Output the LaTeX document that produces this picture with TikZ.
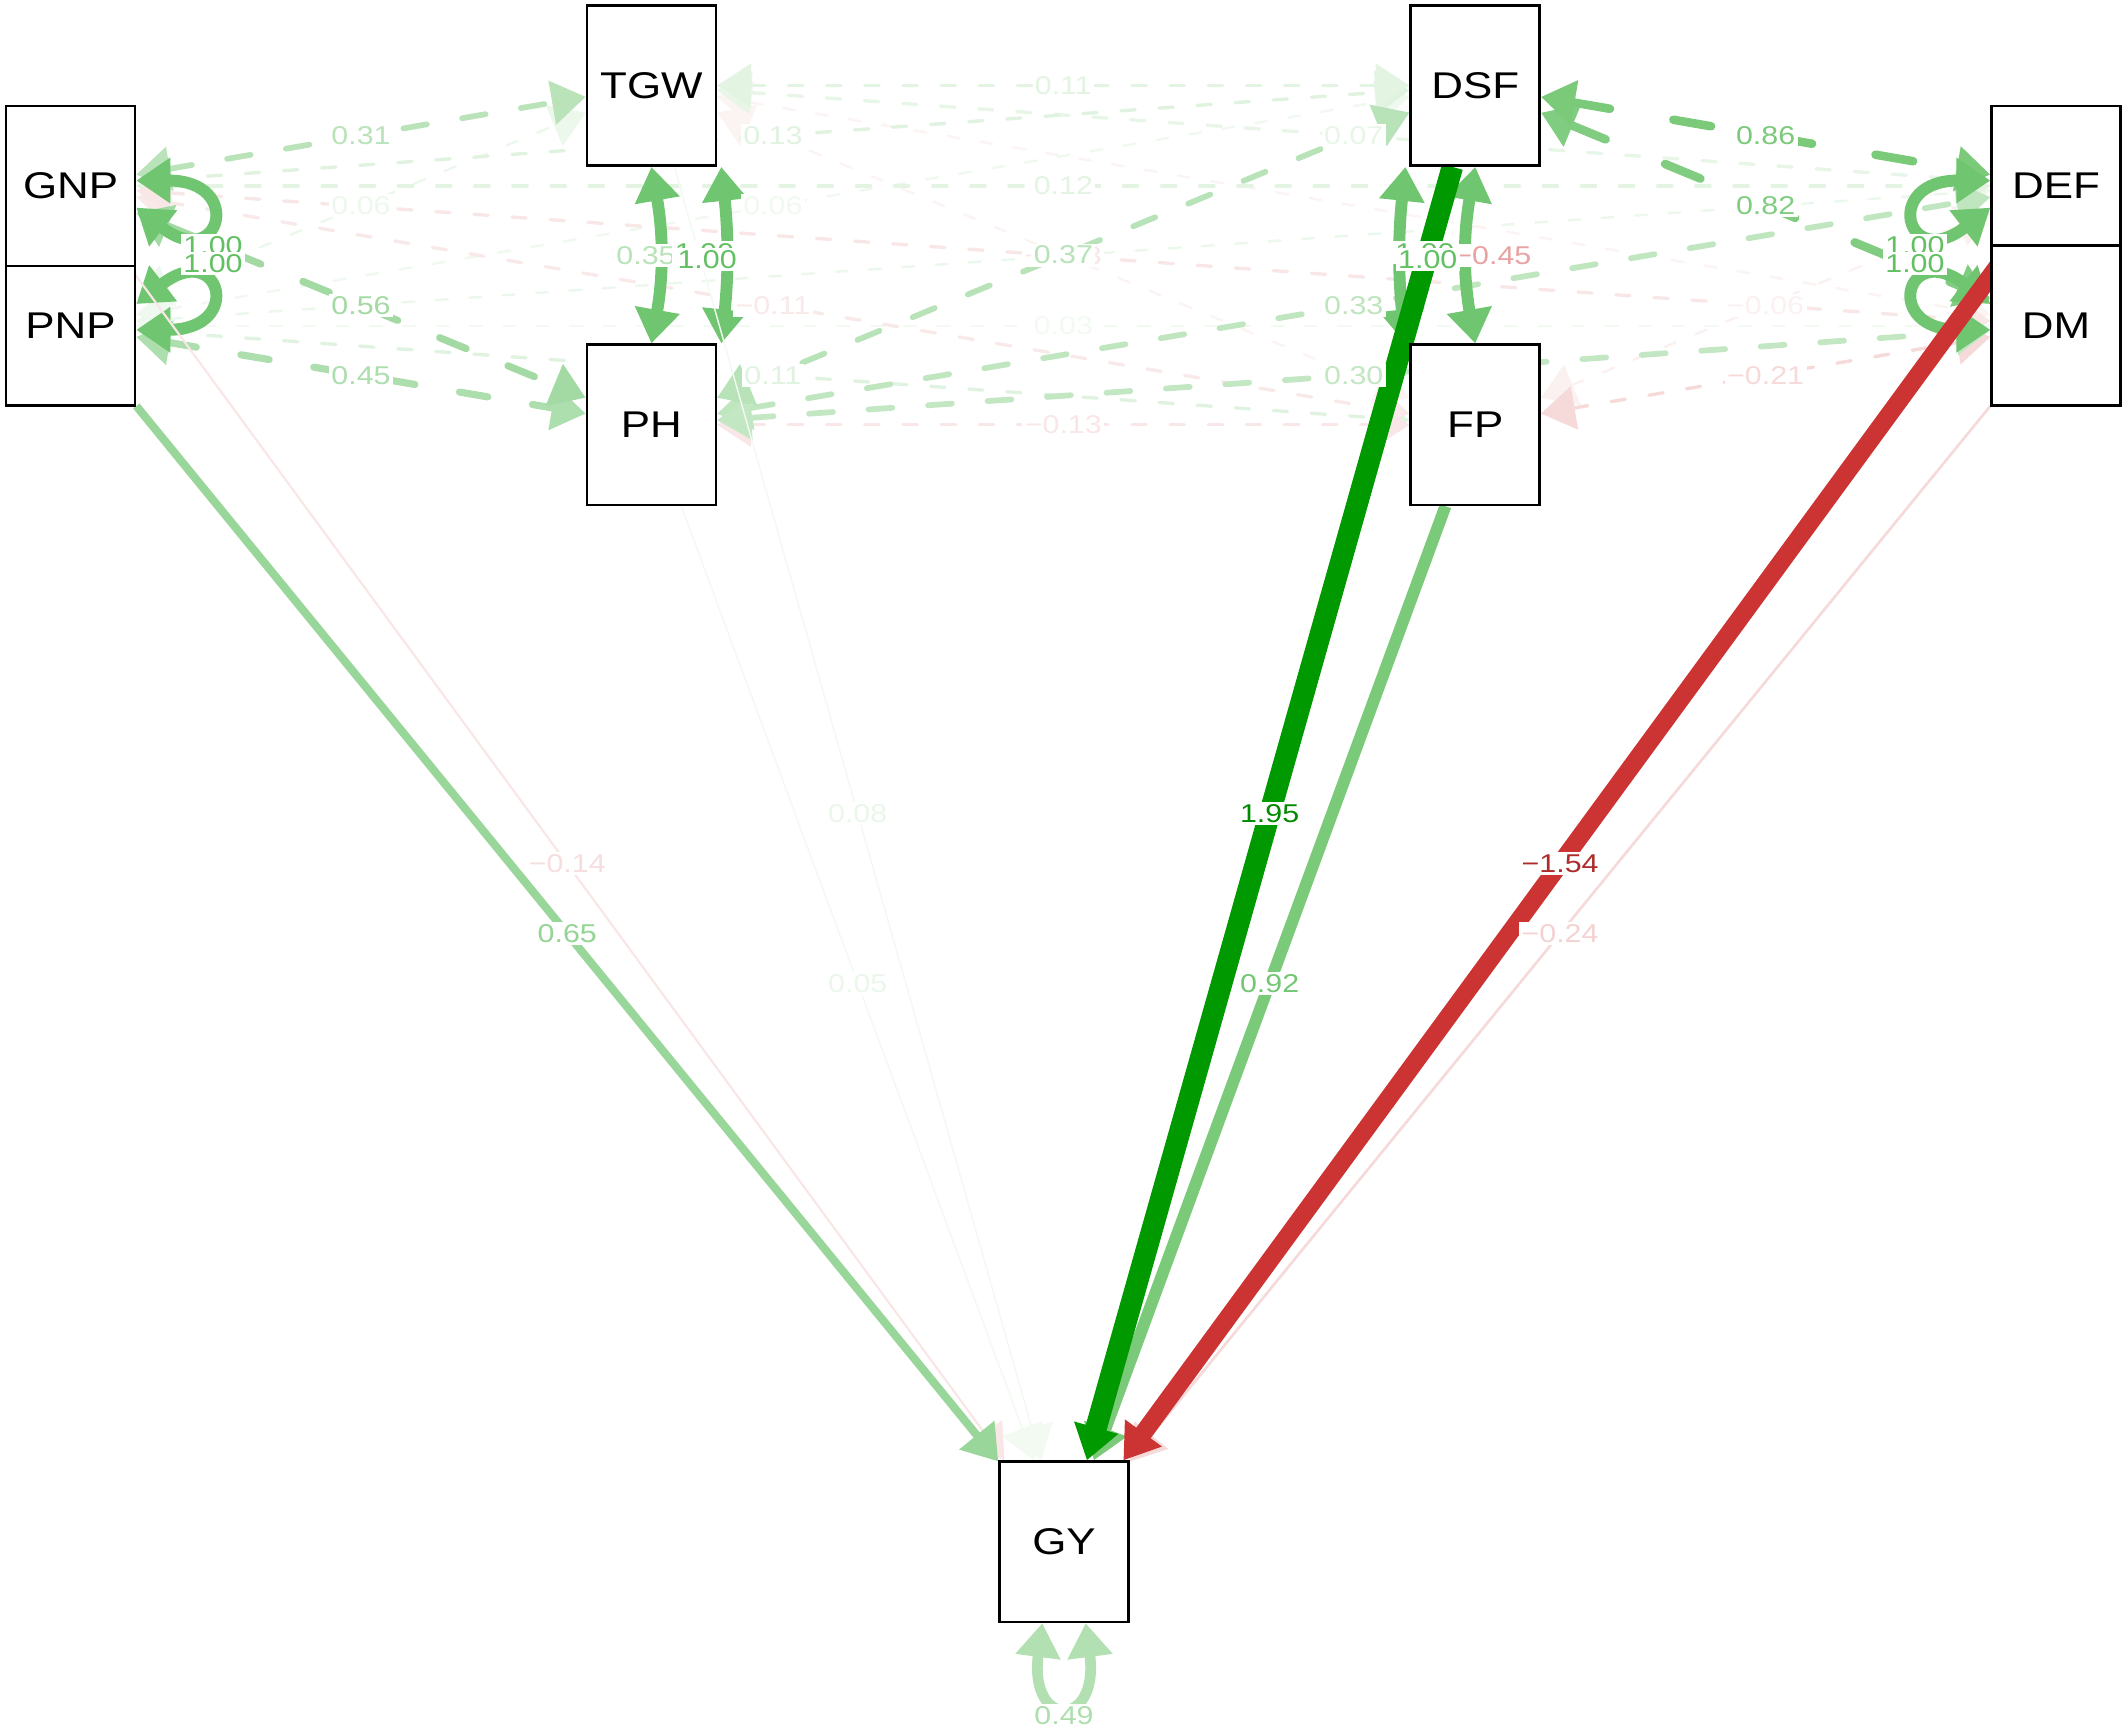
\documentclass[tikz,border=0pt]{standalone}
\usepackage{fontspec}
\setmainfont{Liberation Sans}
\newfontfamily\semfont[FakeStretch=1.18]{Liberation Sans}
\usetikzlibrary{arrows.meta, calc, backgrounds}

\definecolor{pos}{RGB}{0,153,0}
\definecolor{neg}{RGB}{204,51,51}

% covariances: from/to/colour/width/label
\newcommand\covlist{%
  PNP/DM/pos!5/wE/0.03, PNP/TGW/pos!7/wE/0.06, PNP/DSF/pos!6/wE/0.06,
  FP/DEF/neg!7/wE/−0.06, GNP/DEF/pos!11/wD/0.12, TGW/DEF/pos!9/wD/0.07,
  GNP/DSF/pos!12/wD/0.13, PNP/FP/pos!12/wD/0.11, TGW/DSF/pos!11/wD/0.11,
  GNP/FP/neg!11/wD/−0.11, PH/FP/neg!12/wD/−0.13, GNP/DM/neg!12/wD/−0.13,
  FP/DM/neg!18/wD/−0.21, GNP/TGW/pos!27/wC/0.31, PH/DEF/pos!25/wC/0.33,
  PH/DM/pos!24/wC/0.30, PH/DSF/pos!28/wC/0.37, PNP/PH/pos!32/wB/0.45,
  GNP/PH/pos!36/wB/0.56, DSF/DM/pos!50/wA/0.82, DSF/DEF/pos!52/wA/0.86}

% paths to GY: from/colour/width/text colour/label
\newcommand\reglist{%
  TGW/pos!5/0.6pt/pos!8/0.08, PH/pos!5/0.6pt/pos!8/0.05,
  GNP/neg!12/0.9pt/neg!16/−0.14, DM/neg!18/1.1pt/neg!22/−0.24,
  PNP/pos!40/3.4pt/pos!42/0.65, FP/pos!52/5pt/pos!55/0.92,
  DEF/neg/7.5pt/neg!85!black/−1.54, DSF/pos/9pt/pos!90!black/1.95}

\begin{document}
\begin{tikzpicture}[
    x=0.2mm, y=-0.2mm,
    >={Triangle[length=5mm,width=6.4mm]},
    var/.style={draw, line width=1.1pt, fill=white, inner sep=0pt,
                minimum width=19mm, minimum height=23.6mm,
                font=\semfont\fontsize{15.6}{18}\selectfont},
    lbl/.style={fill=white, inner sep=1pt, font=\semfont\fontsize{10.8}{12}\selectfont},
    cov/.style={<->, line cap=round},
    wA/.style={line width=3.6pt, dash pattern=on 16pt off 27pt},
    wB/.style={line width=3pt, dash pattern=on 12pt off 19pt},
    wC/.style={line width=2.4pt, dash pattern=on 10pt off 15pt},
    wD/.style={line width=1.4pt, dash pattern=on 6pt off 10pt},
    wE/.style={line width=1pt, dash pattern=on 5pt off 9pt},
    vloop/.style={<->, line width=5pt, draw=pos!56},
]
\useasboundingbox (0,0) rectangle (1568,1274);

% observed variables
\node[var] (PNP) at (52,240)   {PNP};
\node[var] (GNP) at (52,137)   {GNP};
\node[var] (TGW) at (480,63)   {TGW};
\node[var] (PH)  at (480,313)  {PH};
\node[var] (DSF) at (1087,63)  {DSF};
\node[var] (FP)  at (1087,313) {FP};
\node[var] (DEF) at (1515,137) {DEF};
\node[var] (DM)  at (1515,240) {DM};
\node[var] (GY)  at (784,1136) {GY};

\begin{scope}[on background layer]
  \fill[white] (0,0) rectangle (1568,1274);
  % faint covariances, labels hidden
  \foreach \a/\b/\col in {PNP/DEF/pos!7, TGW/FP/neg!6, TGW/DM/neg!6}
    \draw[cov, wE, draw=\col] (\a) -- (\b);
  \foreach \a/\b/\col/\w/\lab in \covlist
    \draw[cov, \w, draw=\col] (\a) -- (\b);

  % variances and vertical covariances
  \draw[vloop] ($(GNP.east)+(0,-4)$) .. controls +(80,0) and +(62,48) .. ($(GNP.east)+(0,16)$);
  \draw[vloop] ($(PNP.east)+(0,3)$) .. controls +(80,0) and +(62,-48) .. ($(PNP.east)+(0,-16)$);
  \draw[vloop] ($(DEF.west)+(0,-4)$) .. controls +(-80,0) and +(-62,48) .. ($(DEF.west)+(0,16)$);
  \draw[vloop] ($(DM.west)+(0,3)$) .. controls +(-80,0) and +(-62,-48) .. ($(DM.west)+(0,-16)$);
  \draw[vloop] (TGW.south) to[bend left=10] (PH.north);
  \draw[vloop] ($(TGW.south east)+(3,0)$) to[bend left=6] ($(PH.north east)+(3,0)$);
  \draw[vloop] (DSF.south) to[bend right=10] (FP.north);
  \draw[vloop] ($(DSF.south west)+(-3,0)$) to[bend right=6] ($(FP.north west)+(-3,0)$);
  \draw[vloop, draw=pos!30, line width=4.5pt] ($(GY.south)+(-16,0)$)
        .. controls +(-10,78) and +(10,78) .. ($(GY.south)+(16,0)$);

  % paths to grain yield
  \foreach \a/\col/\lw/\tcol/\lab in \reglist
    \draw[->, draw=\col, line width=\lw] (\a) -- (GY);
\end{scope}

% edge labels
\foreach \a/\b/\col/\w/\lab in \covlist
  \path (\a) -- (\b) node[lbl, text=\col, midway] (c\a\b) {\lab};
\foreach \a/\col/\lw/\tcol/\lab in \reglist
  \path (\a) -- (GY) node[lbl, text=\tcol, midway] (r\a) {\lab};

\node[lbl, text=pos!28] (tp)  at (476,188)  {0.35};
\node[lbl, text=pos!62] (vt)  at (519,186)  {1.00};
\node[lbl, text=pos!62] (vp)  at (521,191)  {1.00};
\node[lbl, text=neg!45] (df)  at (1100,188) {−0.45};
\node[lbl, text=pos!62] (vd)  at (1050,186) {1.00};
\node[lbl, text=pos!62] (vf)  at (1052,191) {1.00};
\node[lbl, text=pos!62] (vg)  at (157,181)  {1.00};
\node[lbl, text=pos!62] (vpn) at (157,194)  {1.00};
\node[lbl, text=pos!62] (vde) at (1411,181) {1.00};
\node[lbl, text=pos!62] (vdm) at (1411,194) {1.00};
\node[lbl, text=pos!32] (vgy) at ($(GY.south)+(0,68)$) {0.49};

\end{tikzpicture}
\end{document}
